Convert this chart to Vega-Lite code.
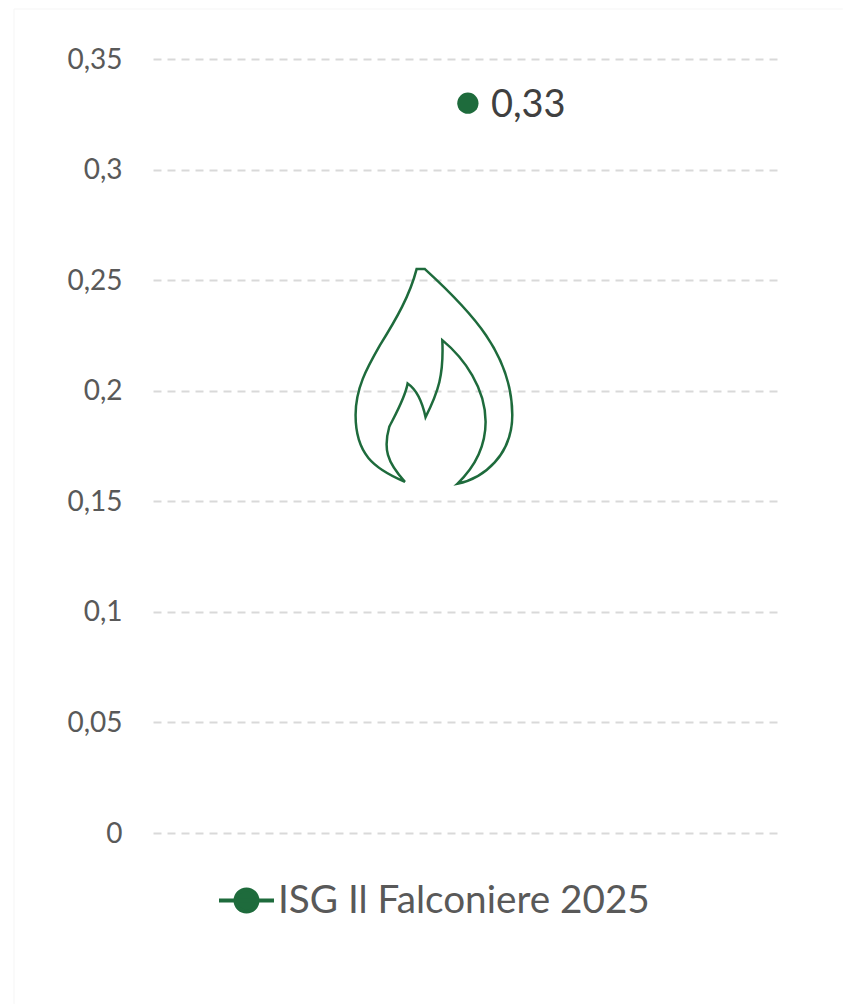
{
"$schema":"https://vega.github.io/schema/vega-lite/v6.json",
"width":626,"height":774,
"autosize":{"type":"none"},
"padding":{"left":153,"top":59,"right":64,"bottom":171},
"background":"white",
"config":{"view":{"stroke":null},"font":"Lato"},
"datasets":{
"series":[{"position":0.503,"value":0.33,"label":"0,33","series":"ISG Il Falconiere 2025"}],
"flame":[{"position":0.448,"value":0.2066}],
"frame":[{"position":-0.222,"value":0.3726,"value2":-0.0773},{"position":-0.222,"position2":1.102,"value":0.3726}]
},
"encoding":{},
"layer":[
{"data":{"name":"frame"},"mark":{"type":"rule","stroke":"#F5F5F5","strokeWidth":1,"clip":false},
 "encoding":{
  "x":{"field":"position","type":"quantitative","scale":{"domain":[0,1]},"axis":null},
  "x2":{"field":"position2"},
  "y":{"field":"value","type":"quantitative","scale":{"domain":[0,0.35]},"axis":{"values":[0,0.05,0.1,0.15,0.2,0.25,0.3,0.35],"title":null,"domain":false,"ticks":false,"grid":true,"gridColor":"#D9D9D9","gridDash":[8,6],"gridWidth":2,"labelExpr":"replace(toString(datum.value),'.',',')","labelFontSize":28,"labelColor":"#595959","labelPadding":31,"labelOffset":1,"labelFont":"Lato"}},
  "y2":{"field":"value2"}
 }},
{"data":{"name":"flame"},"mark":{"type":"point","filled":false,"clip":false,"stroke":"#1E6B3C","strokeWidth":2.5,"opacity":1,"size":46656,
 "shape":"M-0.264,0.978C-0.557,0.855,-0.721,0.719,-0.721,0.361C-0.721,0.114,-0.619,-0.071,-0.495,-0.287C-0.341,-0.534,-0.218,-0.75,-0.156,-0.991L-0.079,-0.991C0.35,-0.6,0.73,-0.2,0.73,0.361C0.73,0.731,0.465,0.948,0.221,0.997C0.369,0.855,0.483,0.67,0.483,0.423C0.483,0.114,0.287,-0.164,0.082,-0.333C0.097,-0.009,0.045,0.145,-0.073,0.38C-0.11,0.207,-0.172,0.114,-0.239,0.068C-0.264,0.207,-0.372,0.392,-0.409,0.469C-0.465,0.67,-0.434,0.793,-0.264,0.978Z"},
 "encoding":{"x":{"field":"position","type":"quantitative"},"y":{"field":"value","type":"quantitative"}}},
{"data":{"name":"series"},"mark":{"type":"line","strokeWidth":4,"point":{"filled":true,"size":452,"opacity":1}},
 "encoding":{
  "x":{"field":"position","type":"quantitative"},
  "y":{"field":"value","type":"quantitative"},
  "color":{"field":"series","type":"nominal","scale":{"range":["#1E6B3C"]},"legend":{"title":null,"orient":"none","legendX":64,"legendY":812,"symbolType":"M-1,0L1,0M0.4,0A0.4,0.4,0,1,1,-0.4,0A0.4,0.4,0,1,1,0.4,0Z","symbolSize":3025,"symbolStrokeWidth":4,"symbolFillColor":"#1E6B3C","labelFontSize":38.7,"labelColor":"#595959","labelOffset":2,"labelFont":"Lato","labelLimit":500}}
 }},
{"data":{"name":"series"},"mark":{"type":"text","align":"left","baseline":"middle","dx":23,"dy":3,"fontSize":38,"color":"#404040","font":"Lato"},
 "encoding":{"x":{"field":"position","type":"quantitative"},"y":{"field":"value","type":"quantitative"},"text":{"field":"label"}}}
]
}
